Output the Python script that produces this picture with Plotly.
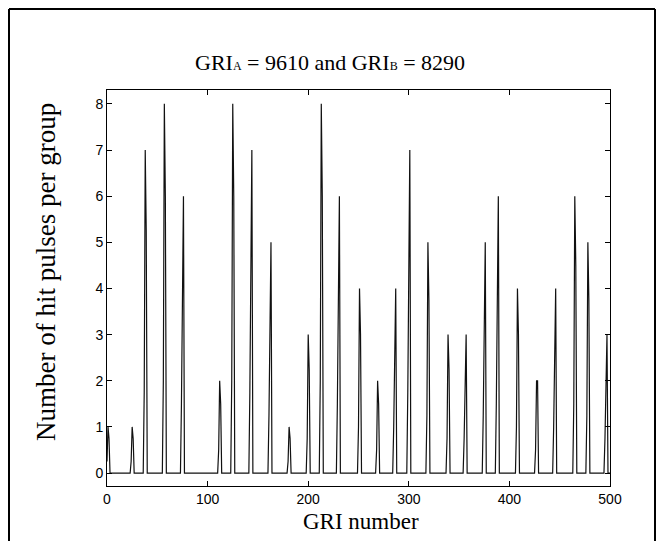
import plotly.graph_objects as go

# GRI index axis
gri_max = 500

# spike centres (GRI number of the peak)
spike_pos = [1, 25, 38, 57, 76, 112, 125, 144, 163, 181, 200, 213, 231, 251,
             269, 287, 301, 319, 339, 357, 376, 389, 408, 427, 446, 465, 478, 497]
# peak heights
spike_peak = [1, 1, 7, 8, 6, 2, 8, 7, 5, 1, 3, 8, 6, 4,
              2, 4, 7, 5, 3, 3, 5, 6, 4, 2, 4, 6, 5, 3]
# shoulder level (thick part)
spike_mid = [0.75, 0.75, 5.25, 6, 4.5, 1.5, 6, 5.25, 3.75, 0.75, 2.25, 6, 4.5, 3,
             1.5, 3, 5.25, 3.75, 2.25, 2.25, 3.75, 4.5, 3, 2, 3, 4.5, 3.75, 2.25]
# base level (lowest step)
spike_low = [0.25, 0.25, 1.75, 2, 1.5, 0.5, 2, 1.75, 1.25, 0.25, 0.75, 2, 1.5, 1,
             0.5, 1, 1.75, 1.25, 0.75, 0.75, 1.25, 1.5, 1, 0.5, 1, 1.5, 1.25, 0.75]
# 1 = rise-peak-fall shape, 0 = ramp shape
spike_kind = [1, 1, 1, 1, 0, 1, 1, 0, 0, 1, 1, 1, 0, 1,
              1, 0, 0, 1, 1, 0, 0, 0, 1, 1, 0, 1, 1, 0]

x_vals = list(range(gri_max + 1))
y_vals = [0.0] * (gri_max + 1)
for n, p, b, c, k in zip(spike_pos, spike_peak, spike_mid, spike_low, spike_kind):
    if k == 1:
        seq = {n - 1: c, n: p, n + 1: b}
    else:
        seq = {n - 2: c, n - 1: b, n: p}
    for xi, v in seq.items():
        if 0 <= xi <= gri_max:
            y_vals[xi] = v

fig = go.Figure()
fig.add_trace(go.Scatter(x=x_vals, y=y_vals, mode="lines",
                         line=dict(color="#111111", width=1.2),
                         showlegend=False, hoverinfo="skip"))

L, R, T, B = 107, 50, 90, 55
W, H = 660, 541
pw, ph = W - L - R, H - T - B

def px(xp):
    return (xp - L) / pw

def py(yp):
    return (H - B - yp) / ph

serif = "Liberation Serif, Times New Roman, serif"
sans = "Liberation Sans, Arial, sans-serif"

fig.update_layout(
    width=W, height=H,
    margin=dict(l=L, r=R, t=T, b=B),
    paper_bgcolor="white", plot_bgcolor="white",
    xaxis=dict(range=[0, 500], tickvals=[0, 100, 200, 300, 400, 500],
               ticks="inside", ticklen=5, tickcolor="black", mirror="allticks",
               showline=True, linecolor="black", linewidth=1, showgrid=False,
               zeroline=False, tickfont=dict(family=sans, size=14, color="black")),
    yaxis=dict(range=[-0.28, 8.3], tickvals=list(range(9)),
               ticks="inside", ticklen=5, tickcolor="black", mirror="allticks",
               showline=True, linecolor="black", linewidth=1, showgrid=False,
               zeroline=False, tickfont=dict(family=sans, size=14, color="black")),
    annotations=[
        dict(text='GRI<span style="font-size:12px">A</span> = 9610 and GRI<span style="font-size:12px">B</span> = 8290',
             x=px(330), y=py(62), xref="paper", yref="paper", showarrow=False,
             font=dict(family=serif, size=22, color="black"), xanchor="center", yanchor="middle"),
        dict(text="Number of hit pulses per group", textangle=-90,
             x=px(46), y=py(272), xref="paper", yref="paper", showarrow=False,
             font=dict(family=serif, size=27, color="black"), xanchor="center", yanchor="middle"),
        dict(text="GRI number",
             x=px(361), y=py(521), xref="paper", yref="paper", showarrow=False,
             font=dict(family=serif, size=23, color="black"), xanchor="center", yanchor="middle"),
    ],
    shapes=[
        dict(type="line", xref="paper", yref="paper", x0=px(9), x1=px(9), y0=py(9), y1=py(560),
             line=dict(color="black", width=2)),
        dict(type="line", xref="paper", yref="paper", x0=px(9), x1=px(655), y0=py(9), y1=py(9),
             line=dict(color="black", width=2)),
        dict(type="line", xref="paper", yref="paper", x0=px(655), x1=px(655), y0=py(9), y1=py(560),
             line=dict(color="black", width=2)),
    ],
)

fig.write_html("out.html")
